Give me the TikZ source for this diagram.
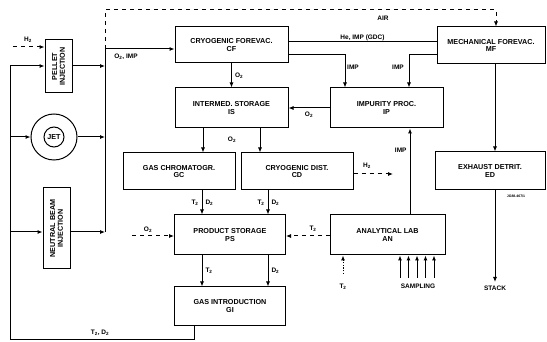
\documentclass[tikz,border=0pt]{standalone}
\usepackage{fontspec}
\setmainfont{Liberation Sans}
\usetikzlibrary{arrows.meta, positioning}

\newcommand{\sub}[1]{\textsubscript{#1}}

\begin{document}
\begin{tikzpicture}[
    x=1pt, y=-1pt,
    line width=1pt,
    every node/.style={font=\fontsize{7.2}{7.8}\selectfont\bfseries},
    box/.style={draw, align=center, inner sep=1pt, minimum width=#1},
    box/.default=112pt,
    arrow/.style={-{Latex[length=5pt,width=4.2pt]}},
    dashedarrow/.style={arrow, dash pattern=on 4pt off 4pt},
    dottedarrow/.style={arrow, dash pattern=on 1.2pt off 1.5pt},
    lbl/.style={inner sep=1pt, font=\fontsize{6.5}{7}\selectfont\bfseries}
]
\useasboundingbox (0,0) rectangle (547,342);

% Injection boxes (rotated: north faces left, south faces right)
\node[box=53pt, minimum height=27pt, rotate=90] (PI) at (58.5,66.5) {PELLET\\INJECTION};
\node[draw, circle, minimum size=46pt] (JET) at (54,137) {};
\node[draw, circle, minimum size=20pt, inner sep=0pt] (JETin) at (JET.center) {JET};
\node[box=81pt, minimum height=27pt, rotate=90] (NBI) at (56.5,228.5) {NEUTRAL BEAM\\INJECTION};

% Process boxes
\node[box=113pt, minimum height=36pt] (CF) at (231.5,45) {CRYOGENIC FOREVAC.\\CF};
\node[box=108pt, minimum height=37pt] (MF) at (491,45.5) {MECHANICAL FOREVAC.\\MF};
\node[box=113pt, minimum height=40pt] (IS) at (231.5,108) {INTERMED. STORAGE\\IS};
\node[box=113pt, minimum height=40pt] (IP) at (386.5,108) {IMPURITY PROC.\\IP};
\node[box=112pt, minimum height=37pt] (GC) at (179,171.5) {GAS CHROMATOGR.\\GC};
\node[box=112pt, minimum height=37pt] (CD) at (297,171.5) {CRYOGENIC DIST.\\CD};
\node[box=110pt, minimum height=38pt] (ED) at (490,171) {EXHAUST DETRIT.\\ED};
\node[box=111pt, minimum height=40pt] (PS) at (230,235) {PRODUCT STORAGE\\PS};
\node[box=115pt, minimum height=40pt] (AN) at (387.5,235) {ANALYTICAL LAB\\AN};
\node[box=111pt, minimum height=38pt] (GI) at (230,306) {GAS INTRODUCTION\\GI};

% Bus and return loop
\coordinate (busTop) at (105,10);
\coordinate (busIn) at (105,49);
\coordinate (busBot) at (105,232);
\coordinate (loopTop) at (10,66);
\coordinate (loopBL) at (10,339);
\coordinate (loopBR) at (194,339);

\draw (busIn) -- (busBot);
\draw[dashedarrow] (busIn) -- (busTop) -- (busTop -| 496,0) -- (MF.north -| 496,0);
\node[lbl] (air) at (383,18) {AIR};

\draw[arrow] (GI.south -| loopBR) -- (loopBR) -- (loopBL) -- (loopTop) -- (PI.north |- loopTop);
\draw[arrow] (10,137) -- (JET.west);
\draw[arrow] (10,232) -- (NBI.north |- 0,232);
\node[lbl] at (100,333) {T\sub{2}, D\sub{2}};

\draw[arrow] (PI.south |- 0,66) -- (105,66);
\draw[arrow] (JET.east) -- (105,137);
\draw[arrow] (NBI.south |- 0,232) -- (busBot);
\draw[dashedarrow] (13,47) -- (PI.north |- 0,47);
\node[lbl] at (28,40) {H\sub{2}};

\draw[arrow] (busIn) -- (CF.west |- busIn);
\node[lbl] at (126,57) {O\sub{2}, IMP};

% Forevacuum
\draw (CF.east |- 0,42) -- node[lbl, above] {He, IMP (GDC)} (MF.west |- 0,42);
\draw[arrow] (CF.east |- 0,55) -- (345,55) -- (IP.north -| 345,0);
\node[lbl] at (353,67) {IMP};
\draw[arrow] (MF.west |- 0,55) -- (409,55) -- (IP.north -| 409,0);
\node[lbl] at (398,67) {IMP};
\draw[arrow] (MF.south -| 495,0) -- (ED.north -| 495,0);
\draw[arrow] (ED.south -| 495,0) -- (495,282) node[lbl, below=2pt] (stack) {STACK};
\node[font=\fontsize{3.5}{4}\selectfont\bfseries] at (516,196) {JG88.467/1};

% Storage chain
\draw[arrow] (CF.south) -- node[lbl, right=2pt] {O\sub{2}} (IS.north);
\draw[arrow] (IP.west) -- node[lbl, below=2pt] {O\sub{2}} (IS.east);
\draw[arrow] (IS.south -| 203,0) -- (GC.north -| 203,0);
\draw[arrow] (IS.south -| 260,0) -- (CD.north -| 260,0);
\node[lbl] at (232,140) {O\sub{2}};
\draw[dashedarrow] (CD.east |- 0,174) -- (393,174);
\node[lbl] at (367,166) {H\sub{2}};

\draw[arrow] (GC.south -| 202,0) -- node[lbl, left=2pt] {T\sub{2}} node[lbl, right=2pt] {D\sub{2}} (PS.north -| 202,0);
\draw[arrow] (CD.south -| 268,0) -- node[lbl, left=2pt] {T\sub{2}} node[lbl, right=2pt] {D\sub{2}} (PS.north -| 268,0);
\draw[arrow] (PS.south -| 202,0) -- node[lbl, right=2pt] {T\sub{2}} (GI.north -| 202,0);
\draw[arrow] (PS.south -| 268,0) -- node[lbl, right=2pt] {D\sub{2}} (GI.north -| 268,0);
\draw[dashedarrow] (132,236) -- (PS.west |- 0,236);
\node[lbl] at (148,230) {O\sub{2}};
\draw[dashedarrow] (AN.west |- 0,236) -- (PS.east |- 0,236);
\node[lbl] at (313,229) {T\sub{2}};

% Analytical lab
\draw[arrow] (AN.north -| 410,0) -- node[lbl, left=2pt, pos=0.75] {IMP} (IP.south -| 410,0);
\foreach \sx in {400,408.5,417,425.5,434}
    \draw[arrow] (\sx,278) -- (AN.south -| \sx,0);
\node[lbl] (samp) at (418,286) {SAMPLING};
\draw[dottedarrow] (343,274) -- (AN.south -| 343,0);
\node[lbl] at (343,287) {T\sub{2}};

\end{tikzpicture}
\end{document}
